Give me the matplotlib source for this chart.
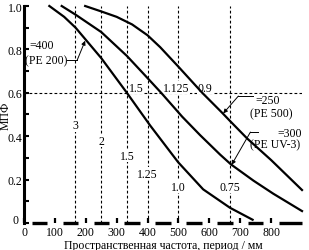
import numpy as np
import matplotlib
matplotlib.use("Agg")
import matplotlib.pyplot as plt
import matplotlib.transforms as mtransforms
from matplotlib.ticker import MultipleLocator

plt.rcParams['font.family'] = ['Liberation Serif', 'DejaVu Serif']
plt.rcParams['font.size'] = 8.5

# MTF curves (spatial frequency, lp/mm -> MTF)
pe200_x = [82, 130, 167, 250, 333, 408, 499, 580, 667, 740]
pe200_y = [1.0, 0.95, 0.90, 0.76, 0.60, 0.45, 0.28, 0.155, 0.07, 0.015]

pe_uv3_x = [122, 167, 250, 333, 392, 444, 512, 570, 635, 670, 743, 807, 900]
pe_uv3_y = [1.0, 0.96, 0.88, 0.77, 0.68, 0.60, 0.49, 0.405, 0.315, 0.27, 0.195, 0.135, 0.055]

pe500_x = [198, 250, 300, 350, 400, 441, 500, 577, 640, 667, 722, 800, 900]
pe500_y = [1.0, 0.975, 0.95, 0.915, 0.865, 0.81, 0.72, 0.60, 0.51, 0.47, 0.39, 0.29, 0.152]

# period (um) markers -> vertical guide lines at 500/d lp/mm
periods = [3, 2, 1.5, 1.25, 1.0, 0.75]
period_labels = ['3', '2', '1.5', '1.25', '1.0', '0.75']
period_label_y = [0.45, 0.38, 0.31, 0.226, 0.166, 0.166]

# labels along the MTF = 0.6 line
level = 0.6
level_periods = [1.5, 1.125, 0.9]
level_labels = ['1.5', '1.125', '0.9']

x_ticks = np.arange(0, 900, 100)
y_ticks = np.arange(0, 1.01, 0.2)

fig = plt.figure(figsize=(3.09, 2.51), dpi=100)
ax = fig.add_axes([0.0777, 0.1076, 0.8997, 0.8645])
ax.set_xlim(0, 900)
ax.set_ylim(0, 1.0)

dash = (0, (2.5, 2))
for d, lab, ly in zip(periods, period_labels, period_label_y):
    fx = 500 / d
    ax.plot([fx, fx], [0, 1.0], color='black', lw=0.8, ls=dash, zorder=1)
    ax.text(fx, ly, lab, ha='center', va='center',
            bbox=dict(facecolor='white', edgecolor='none', pad=0.3), zorder=2)

ax.axhline(level, color='black', lw=0.8, ls=dash, zorder=1)
for d, lab in zip(level_periods, level_labels):
    ax.text(500 / d + 6, level - 0.005, lab, ha='left', va='bottom',
            bbox=dict(facecolor='white', edgecolor='none', pad=0.3), zorder=2)

for xs, ys in [(pe200_x, pe200_y), (pe_uv3_x, pe_uv3_y), (pe500_x, pe500_y)]:
    ax.plot(xs, ys, color='black', lw=1.6, zorder=3, clip_on=False)

arrow = dict(arrowstyle='-|>', color='black', lw=0.7, mutation_scale=6,
             shrinkA=0, shrinkB=0)

# =400 (PE 200)
ax.text(58, 0.82, '=400', ha='center', va='center', zorder=4)
ax.text(3, 0.75, '(PE 200)', ha='left', va='center', zorder=4)
ax.plot([139, 172], [0.75, 0.75], color='black', lw=0.7, zorder=4)
ax.annotate('', xy=(198, 0.84), xytext=(172, 0.75), arrowprops=arrow, zorder=4)

# =250 (PE 500)
ax.text(750, 0.565, '=250', ha='left', va='center', zorder=4,
        bbox=dict(facecolor='white', edgecolor='none', pad=0.3))
ax.text(733, 0.505, '(PE 500)', ha='left', va='center', zorder=4)
ax.plot([694, 740], [0.585, 0.585], color='black', lw=0.7, zorder=4)
ax.annotate('', xy=(645, 0.505), xytext=(694, 0.585), arrowprops=arrow, zorder=4)

# =300 (PE UV-3)
ax.text(820, 0.415, '=300', ha='left', va='center', zorder=4)
ax.text(733, 0.363, '(PE UV-3)', ha='left', va='center', zorder=4)
ax.plot([733, 758], [0.419, 0.419], color='black', lw=0.7, zorder=4)
ax.annotate('', xy=(672, 0.268), xytext=(733, 0.419), arrowprops=arrow, zorder=4)

# axes styling: thick broken baseline, thick left spine
for side in ['top', 'right', 'bottom']:
    ax.spines[side].set_visible(False)
ax.spines['left'].set_linewidth(2.2)
seg_start = x_ticks + 25
seg_end = x_ticks + 75
seg_end[-1] = 900
ax.hlines(np.zeros(len(seg_start)), seg_start, seg_end,
          color='black', lw=2.4, clip_on=False, zorder=5)

ax.set_xticks(x_ticks)
ax.set_xticklabels([str(v) for v in x_ticks])
ax.set_yticks(y_ticks)
ax.set_yticklabels(['0', '0.2', '0.4', '0.6', '0.8', '1.0'])
ax.yaxis.set_minor_locator(MultipleLocator(0.1))
ax.tick_params(axis='x', direction='in', length=3.5, width=1.6, pad=2)
ax.tick_params(axis='y', which='both', direction='in', length=3.5, width=1.5, pad=1)

# nudge the y "0" up-left so it clears the x "0"
zero = ax.get_yticklabels()[0]
zero.set_transform(zero.get_transform() +
                   mtransforms.ScaledTranslation(-4 / 100, 4 / 100, fig.dpi_scale_trans))

ax.set_xlabel('Пространственная частота, период / мм', labelpad=1)
ax.set_ylabel('МПФ', labelpad=2)
ax.yaxis.set_label_coords(-0.045, 0.5)

fig.savefig('out.png', dpi=100, facecolor='white')
